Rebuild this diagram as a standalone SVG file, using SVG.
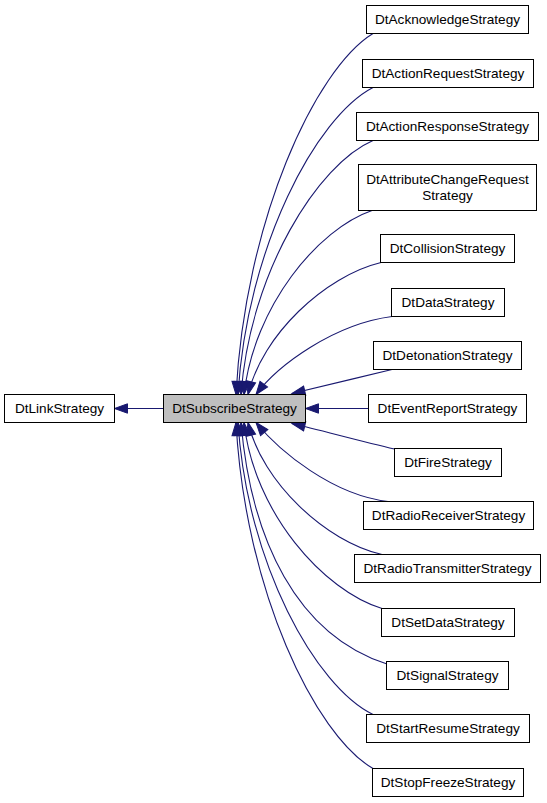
<svg xmlns="http://www.w3.org/2000/svg" width="547" height="803" viewBox="0 0 547 803">
<style>
.n rect{fill:#ffffff;stroke:#000000;stroke-width:1}
.n.cur rect{fill:#bfbfbf}
.n text{font-family:"Liberation Sans",Arial,sans-serif;font-size:13.6px;text-anchor:middle;fill:#000000}
.e path{fill:none;stroke:#191970;stroke-width:1.1;marker-end:url(#ah)}
</style>
<defs>
<marker id="ah" markerUnits="userSpaceOnUse" markerWidth="16" markerHeight="12" viewBox="-14 -6 16 12" refX="0" refY="0" orient="auto">
<path d="M0,0 L-13,-4.7 L-13,4.7 Z" fill="#191970" stroke="#191970" stroke-width="1"/>
</marker>
</defs>
<rect width="547" height="803" fill="#ffffff"/>
<g id="connectors" class="e">
<path d="M163.5,408.5 L114.5,408.5"/>
<path d="M373,33.5 C315,69 245,221 236,394.5"/>
<path d="M373,87.5 C316,117 247,247 238,394.5"/>
<path d="M373,140.5 C318,164 250,272 241,394.5"/>
<path d="M372,210.5 C318,229 254,306 244,394.5"/>
<path d="M381,262.5 C325,276 262,335 248,394.5"/>
<path d="M392,316.5 C334,324 278,365 256,394.5"/>
<path d="M392,369.5 C360,377 320,387 292,393.5"/>
<path d="M368.5,408.5 L305.5,408.5"/>
<path d="M394.5,449 C360,441 320,430 292,423.5"/>
<path d="M388,501.5 C333,495 280,452 256,422.5"/>
<path d="M382,554.5 C326,542 262,482 248,422.5"/>
<path d="M382,608.5 C324,591 254,513 244,422.5"/>
<path d="M387,664 C297,635 251,540 241,422.5"/>
<path d="M373,714.5 C316,687 247,564 238,422.5"/>
<path d="M373,768.5 C315,735 245,590 236,422.5"/>
</g>
<g id="DtLinkStrategy" class="n"><rect x="4.5" y="394.5" width="110" height="28"/><text x="59.5" y="413">DtLinkStrategy</text></g>
<g id="DtSubscribeStrategy" class="n cur"><rect x="163.5" y="394.5" width="142" height="28"/><text x="234.5" y="413">DtSubscribeStrategy</text></g>
<g id="DtAcknowledgeStrategy" class="n"><rect x="366.5" y="5.5" width="162" height="28"/><text x="447.5" y="24">DtAcknowledgeStrategy</text></g>
<g id="DtActionRequestStrategy" class="n"><rect x="362.5" y="59.5" width="171" height="28"/><text x="448" y="78">DtActionRequestStrategy</text></g>
<g id="DtActionResponseStrategy" class="n"><rect x="356.5" y="112.5" width="182" height="28"/><text x="447.5" y="131">DtActionResponseStrategy</text></g>
<g id="DtAttributeChangeRequestStrategy" class="n"><rect x="358.5" y="164.5" width="178" height="46"/><text x="447.5" y="183.5">DtAttributeChangeRequest</text><text x="447.5" y="200">Strategy</text></g>
<g id="DtCollisionStrategy" class="n"><rect x="380.5" y="234.5" width="134" height="28"/><text x="447.5" y="253">DtCollisionStrategy</text></g>
<g id="DtDataStrategy" class="n"><rect x="391.5" y="288.5" width="113" height="28"/><text x="448" y="307">DtDataStrategy</text></g>
<g id="DtDetonationStrategy" class="n"><rect x="373.5" y="341.5" width="148" height="28"/><text x="447.5" y="360">DtDetonationStrategy</text></g>
<g id="DtEventReportStrategy" class="n"><rect x="368.5" y="394.5" width="158" height="28"/><text x="447.5" y="413">DtEventReportStrategy</text></g>
<g id="DtFireStrategy" class="n"><rect x="394.5" y="448.5" width="107" height="28"/><text x="448" y="467">DtFireStrategy</text></g>
<g id="DtRadioReceiverStrategy" class="n"><rect x="363.5" y="501.5" width="170" height="28"/><text x="448.5" y="520">DtRadioReceiverStrategy</text></g>
<g id="DtRadioTransmitterStrategy" class="n"><rect x="354.5" y="554.5" width="186" height="28"/><text x="447.5" y="573">DtRadioTransmitterStrategy</text></g>
<g id="DtSetDataStrategy" class="n"><rect x="381.5" y="608.5" width="133" height="28"/><text x="448" y="627">DtSetDataStrategy</text></g>
<g id="DtSignalStrategy" class="n"><rect x="386.5" y="661.5" width="122" height="28"/><text x="447.5" y="680">DtSignalStrategy</text></g>
<g id="DtStartResumeStrategy" class="n"><rect x="366.5" y="714.5" width="163" height="28"/><text x="448" y="733">DtStartResumeStrategy</text></g>
<g id="DtStopFreezeStrategy" class="n"><rect x="372.5" y="768.5" width="151" height="28"/><text x="448" y="787">DtStopFreezeStrategy</text></g>
</svg>
